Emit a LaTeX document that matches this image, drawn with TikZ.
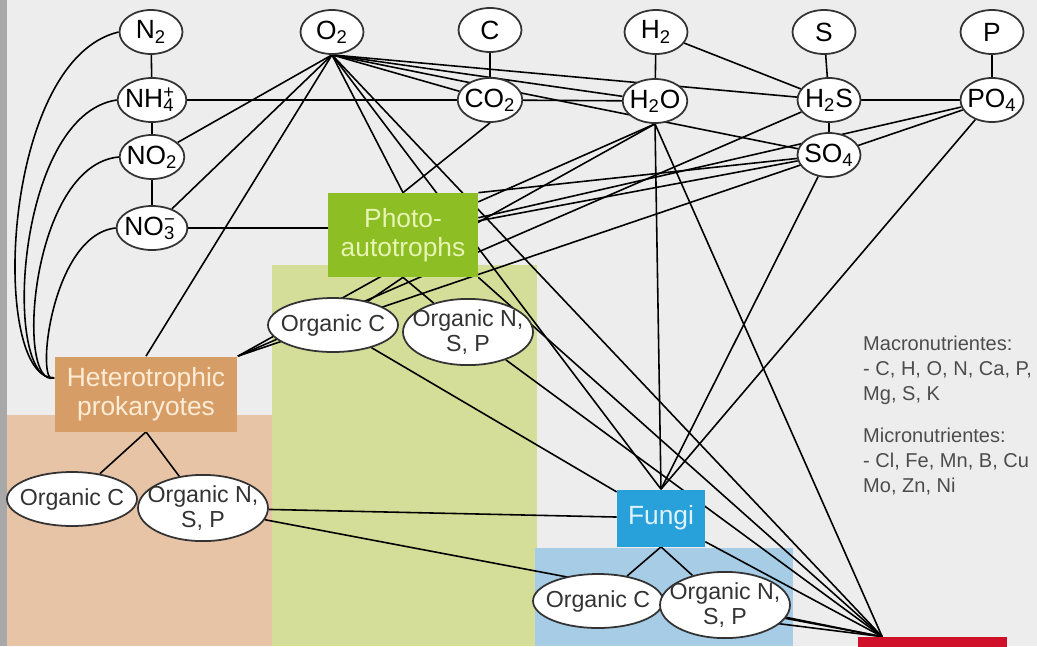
\documentclass[tikz,border=0pt]{standalone}
\usepackage{fontspec}
\setmainfont{Liberation Sans}
\usetikzlibrary{shapes.geometric}

\definecolor{bggray}{RGB}{237,237,237}
\definecolor{stripgray}{RGB}{168,168,168}
\definecolor{hetzone}{RGB}{232,196,166}
\definecolor{photozone}{RGB}{212,222,152}
\definecolor{fungizone}{RGB}{166,204,230}
\definecolor{hetfill}{RGB}{214,158,102}
\definecolor{photofill}{RGB}{141,190,35}
\definecolor{fungifill}{RGB}{40,160,218}
\definecolor{redfill}{RGB}{208,16,40}

\pgfdeclarelayer{zones}
\pgfdeclarelayer{edges}
\pgfsetlayers{zones,edges,main}

\tikzset{
  chem/.style={ellipse, draw=black!80, line width=1pt, fill=white,
    inner xsep=-0.05cm, inner ysep=0pt, minimum width=1.26cm,
    minimum height=0.88cm, font=\fontsize{15}{17}\selectfont},
  organic/.style={ellipse, draw=black!80, line width=1pt, fill=white,
    inner xsep=-0.19cm, inner ysep=0.5pt, minimum width=2.6cm,
    minimum height=1.08cm, align=center, text=black!80,
    font=\fontsize{13.2}{14.4}\selectfont},
  groupbox/.style={rectangle, align=center, font=\fontsize{15}{16.5}\selectfont},
  link/.style={line width=0.9pt}
}

\begin{document}
\begin{tikzpicture}[x=0.02cm, y=-0.02cm]
    \useasboundingbox (0,0) rectangle (1037,646);

    % 背景
    \begin{pgfonlayer}{zones}
      \fill[bggray] (0,0) rectangle (1037,646);
      \fill[stripgray] (0,0) rectangle (7,646);
      \fill[hetzone] (7,415) rectangle (272,646);
      \fill[photozone] (272,265) rectangle (537,646);
      \fill[fungizone] (535,548) rectangle (793,646);
    \end{pgfonlayer}

    % 元素・化合物
    \node[chem] (N2) at (151,32) {N\textsubscript{2}};
    \node[chem] (O2) at (332,32) {O\textsubscript{2}};
    \node[chem] (C) at (490,30) {C};
    \node[chem] (H2) at (656,32) {H\textsubscript{2}};
    \node[chem] (S) at (824,32) {S};
    \node[chem] (P) at (992,32) {P};
    \node[chem] (NH4) at (152,100) {NH\rlap{\textsuperscript{+}}\textsubscript{4}\,};
    \node[chem] (CO2) at (490,100) {CO\textsubscript{2}};
    \node[chem] (H2O) at (655,101) {H\textsubscript{2}O};
    \node[chem] (H2S) at (829,100) {H\textsubscript{2}S};
    \node[chem] (PO4) at (992,100) {PO\textsubscript{4}};
    \node[chem] (NO2) at (152,157) {NO\textsubscript{2}};
    \node[chem] (SO4) at (829,155) {SO\textsubscript{4}};
    \node[chem] (NO3) at (152,228) {NO\rlap{\textsuperscript{−}}\textsubscript{3}\,};

    % 生物群
    \node[groupbox, fill=photofill, text={rgb,255:red,232;green,244;blue,180},
      minimum width=3cm, minimum height=1.68cm] (Photo) at (403,235) {Photo-\\autotrophs};
    \node[groupbox, fill=hetfill, text={rgb,255:red,255;green,236;blue,214},
      minimum width=3.66cm, minimum height=1.5cm] (Het) at (146,394) {Heterotrophic\\prokaryotes};
    \node[groupbox, fill=fungifill, text={rgb,255:red,222;green,242;blue,255},
      minimum width=1.76cm, minimum height=1.14cm] (Fungi) at (661,518) {Fungi};
    \node[groupbox, fill=redfill, minimum width=2.98cm, minimum height=1.2cm] (Red) at (932,667) {};

    % 有機物
    \node[organic] (HetOrgC) at (72,499) {Organic C};
    \node[organic] (HetOrgN) at (203,508) {Organic N,\\S, P};
    \node[organic] (PhotoOrgC) at (333,325) {Organic C};
    \node[organic] (PhotoOrgN) at (468,332) {Organic N,\\S, P};
    \node[organic] (FungiOrgC) at (598,601) {Organic C};
    \node[organic] (FungiOrgN) at (725,605) {Organic N,\\S, P};

    % 注記
    \node[anchor=north west, align=left, text=black!70,
      font=\fontsize{11.4}{14.2}\selectfont] (notes) at (857,330)
      {Macronutrientes:\\- C, H, O, N, Ca, P,\\Mg, S, K\\[9.6pt]Micronutrientes:\\- Cl, Fe, Mn, B, Cu\\Mo, Zn, Ni};

    % エッジ
    \begin{pgfonlayer}{edges}
      \draw[link] (N2) -- (NH4);
      \draw[link] (NH4) -- (NO2);
      \draw[link] (NO2) -- (NO3);
      \draw[link] (C) -- (CO2);
      \draw[link] (H2) -- (H2O);
      \draw[link] (S) -- (H2S);
      \draw[link] (H2S) -- (SO4);
      \draw[link] (P) -- (PO4);

      \draw[link] (N2.west) .. controls (0,60) and (-10,380) .. (Het.170);
      \draw[link] (NH4.west) .. controls (15,115) and (2,385) .. (Het.170);
      \draw[link] (NO2.west) .. controls (30,165) and (15,390) .. (Het.170);
      \draw[link] (NO3.west) .. controls (50,235) and (35,390) .. (Het.170);

      \draw[link] (NH4) -- (CO2);
      \draw[link] (CO2) -- (H2O);
      \draw[link] (H2S) -- (PO4);
      \draw[link] (H2) -- (H2S);
      \draw[link] (NO3) -- (NO3 -| Photo.center);

      \draw[link] (O2.south) -- (NO2);
      \draw[link] (O2.south) -- (NO3);
      \draw[link] (O2.south) -- (Het.north);
      \draw[link] (O2.south) -- (CO2);
      \draw[link] (O2.south) -- (H2O);
      \draw[link] (O2.south) -- (H2S);
      \draw[link] (O2.south) -- (SO4);
      \draw[link] (O2.south) -- (Photo.north);
      \draw[link] (O2.south) -- (Fungi.north);
      \draw[link] (O2.south) -- ([xshift=0.5cm]Red.north west);

      \draw[link] (CO2.south) -- (Photo.north);
      \draw[link] (H2O.south) -- (Photo);
      \draw[link] (H2O.south) -- (Het.north east);
      \draw[link] (H2O.south) -- (Fungi.north);
      \draw[link] (H2O.south) -- ([xshift=0.5cm]Red.north west);
      \draw[link] (H2S) -- (Het.north east);
      \draw[link] (SO4) -- (Photo.north east);
      \draw[link] (SO4) -- (Photo);
      \draw[link] (SO4) -- (Fungi.north);
      \draw[link] (PO4) -- (Photo);
      \draw[link] (PO4) -- (Het.north east);
      \draw[link] (PO4) -- (Fungi.north);

      \draw[link] (Photo.south) -- (PhotoOrgC);
      \draw[link] (Photo.south) -- (PhotoOrgN);
      \draw[link] (Photo.south east) -- ([xshift=0.5cm]Red.north west);
      \draw[link] (PhotoOrgC) -- (Fungi);
      \draw[link] (PhotoOrgN) -- ([xshift=0.5cm]Red.north west);

      \draw[link] (Het.south) -- (HetOrgC);
      \draw[link] (Het.south) -- (HetOrgN);
      \draw[link] (HetOrgN) -- (Fungi);
      \draw[link] (HetOrgN) -- ([xshift=0.5cm]Red.north west);

      \draw[link] (Fungi.south) -- (FungiOrgC);
      \draw[link] (Fungi.south) -- (FungiOrgN);
      \draw[link] (Fungi) -- ([xshift=0.5cm]Red.north west);
      \draw[link] (FungiOrgC) -- ([xshift=0.5cm]Red.north west);
      \draw[link] (FungiOrgN) -- ([xshift=0.5cm]Red.north west);
    \end{pgfonlayer}
\end{tikzpicture}
\end{document}
